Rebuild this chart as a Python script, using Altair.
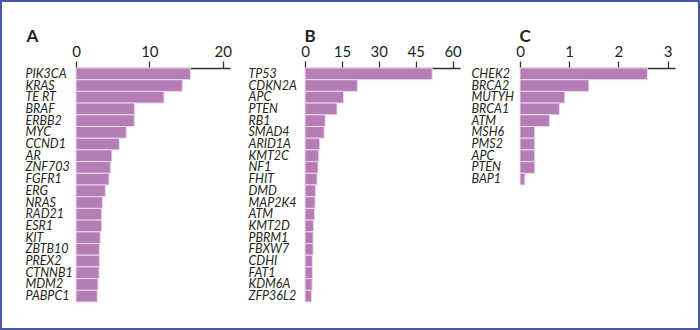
import altair as alt
import pandas as pd

genes_a = ["PIK3CA", "KRAS", "TE RT", "BRAF", "ERBB2", "MYC", "CCND1", "AR", "ZNF703", "FGFR1",
           "ERG", "NRAS", "RAD21", "ESR1", "KIT", "ZBTB10", "PREX2", "CTNNB1", "MDM2", "PABPC1"]
vals_a = [15.6, 14.5, 12.0, 8.0, 7.95, 6.85, 5.9, 4.9, 4.7, 4.5,
          4.0, 3.6, 3.5, 3.5, 3.3, 3.2, 3.2, 3.15, 3.0, 2.9]

genes_b = ["TP53", "CDKN2A", "APC", "PTEN", "RB1", "SMAD4", "ARID1A", "KMT2C", "NF1", "FHIT",
           "DMD", "MAP2K4", "ATM", "KMT2D", "PBRM1", "FBXW7", "CDHI", "FAT1", "KDM6A", "ZFP36L2"]
vals_b = [51.7, 21.3, 15.7, 13.0, 8.2, 7.8, 6.0, 5.6, 5.3, 4.9,
          4.3, 4.1, 3.9, 3.5, 3.3, 3.3, 3.0, 3.0, 2.9, 2.7]

genes_c = ["CHEK2", "BRCA2", "MUTYH", "BRCA1", "ATM", "MSH6", "PMS2", "APC", "PTEN", "BAP1"]
vals_c = [2.59, 1.40, 0.91, 0.80, 0.60, 0.30, 0.30, 0.30, 0.30, 0.10]

ticks_a = [0, 10, 20]
ticks_b = [0, 15, 30, 45, 60]
ticks_c = [0, 1, 2, 3]

FONT = "Lato"
BAR = "#b57cb5"
EDGE = "#ecd9ec"
FRAME = "#4a56a6"


def panel(genes, vals, letter, domain, ticks, width, label_pad, title_x):
    df = pd.DataFrame({"gene": genes, "value": vals})
    bars = alt.Chart(df).mark_bar(fill=BAR, stroke=EDGE, strokeWidth=1).encode(
        x=alt.X("value:Q",
                scale=alt.Scale(domain=domain, nice=False, zero=True),
                axis=alt.Axis(orient="top", values=ticks, grid=False,
                              title=letter, titleFont=FONT, titleFontSize=17,
                              titleFontWeight="bold", titleColor="#231f20",
                              titleAnchor="start", titleAlign="left",
                              titleBaseline="alphabetic", titleX=title_x, titleY=-27,
                              domainColor="#333333", domainWidth=1.6,
                              tickColor="#333333", tickWidth=1.3, tickSize=7,
                              labelFont=FONT, labelFontSize=15, labelColor="#231f20",
                              labelPadding=2, labelFlush=False)),
        y=alt.Y("gene:N", sort=genes,
                scale=alt.Scale(paddingInner=0, paddingOuter=0),
                axis=alt.Axis(title=None, ticks=False, tickSize=0, domain=False,
                              labelAlign="left", labelPadding=label_pad,
                              labelFont=FONT, labelFontStyle="italic",
                              labelFontSize=12.5, labelColor="#231f20")),
    )
    return bars.properties(width=width, height=11.7 * len(genes))


frame = alt.Chart(alt.Data(values=[{"k": 1}])).mark_rect(
    filled=False, stroke=FRAME, strokeWidth=2
).encode(
    x=alt.value(-75), x2=alt.value(623), y=alt.value(-67), y2=alt.value(261)
)

pa = alt.layer(frame, panel(genes_a, vals_a, "A", [0, 21], ticks_a, 154, 51, -50))
pb = panel(genes_b, vals_b, "B", [0, 63], ticks_b, 155, 57, -1)
pc = panel(genes_c, vals_c, "C", [0, 3.15], ticks_c, 155, 49, -1)

inner = alt.hconcat(pb, pc, spacing=60, bounds="flush")
chart = alt.hconcat(pa, inner, spacing=75, bounds="flush").properties(
    padding=0, background="white"
).configure_view(stroke=None)

chart.save("out.html", embed_options={"renderer": "svg", "actions": False})
